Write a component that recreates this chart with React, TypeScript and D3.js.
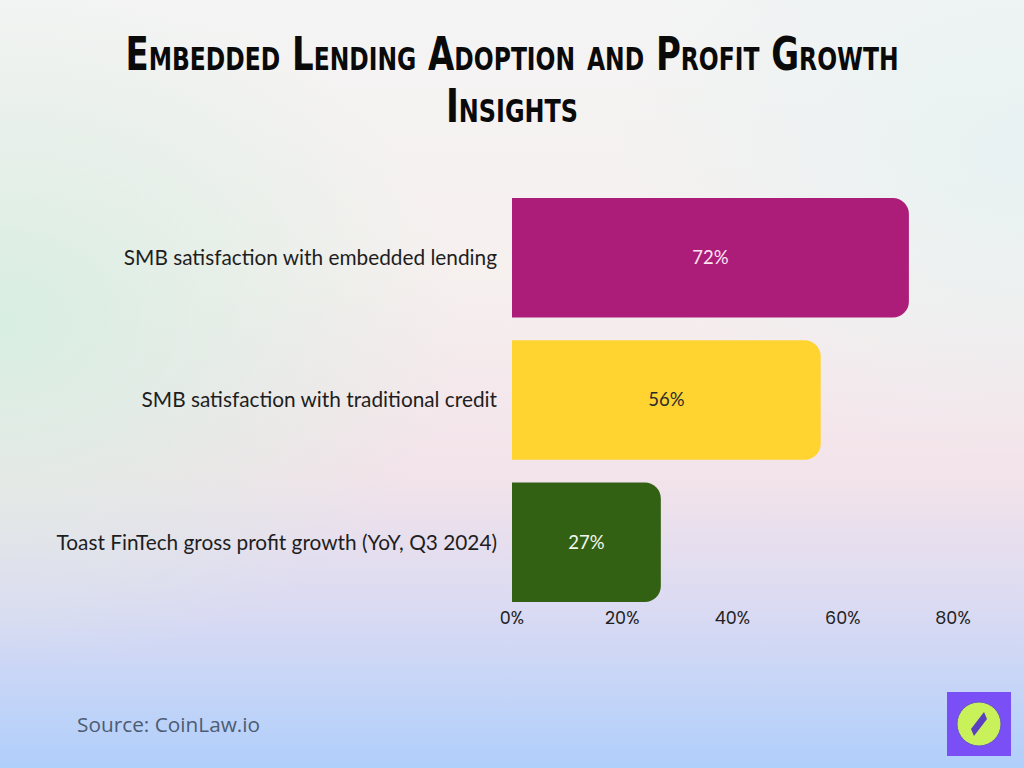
import React from "react";
import * as d3 from "d3";

const categories = [
  "SMB satisfaction with embedded lending",
  "SMB satisfaction with traditional credit",
  "Toast FinTech gross profit growth (YoY, Q3 2024)",
];
const values = [72, 56, 27];
const barColors = ["#ac1d79", "#ffd330", "#336114"];
const valueColors = ["#fbe6f2", "#2b2b2b", "#f3f7ee"];
const ticks = [0, 20, 40, 60, 80];

const W = 1024;
const H = 768;

function barPath(x0: number, x1: number, y: number, h: number, r: number) {
  const rr = Math.min(r, (x1 - x0) / 2, h / 2);
  return `M${x0},${y}H${x1 - rr}A${rr},${rr} 0 0 1 ${x1},${y + rr}V${y + h - rr}A${rr},${rr} 0 0 1 ${x1 - rr},${y + h}H${x0}Z`;
}

export default function App() {
  const x = d3.scaleLinear().domain([0, 80]).range([512, 953]);
  const y = d3
    .scaleBand<string>()
    .domain(categories)
    .range([188, 612])
    .paddingInner(0.16)
    .paddingOuter(0.07);

  return (
    <svg
      width={W}
      height={H}
      style={{ display: "block", position: "absolute", left: 0, top: 0 }}
    >
      <defs>
        <linearGradient id="bg" x1="0" y1="0" x2="0" y2="1">
          <stop offset="0" stopColor="#f4f4f4" />
          <stop offset="0.35" stopColor="#f6f0ef" />
          <stop offset="0.62" stopColor="#f3e3ea" />
          <stop offset="0.8" stopColor="#d9daf3" />
          <stop offset="1" stopColor="#b0cffb" />
        </linearGradient>
        <radialGradient id="mint" cx="0" cy="0.42" r="0.45">
          <stop offset="0" stopColor="#d8eee2" stopOpacity="1" />
          <stop offset="1" stopColor="#d8eee2" stopOpacity="0" />
        </radialGradient>
        <radialGradient id="tr" cx="1" cy="0.2" r="0.4">
          <stop offset="0" stopColor="#e6f2f2" stopOpacity="0.9" />
          <stop offset="1" stopColor="#e6f2f2" stopOpacity="0" />
        </radialGradient>
      </defs>
      <rect width={W} height={H} fill="url(#bg)" />
      <rect width={W} height={H} fill="url(#mint)" />
      <rect width={W} height={H} fill="url(#tr)" />

      {/* title: condensed look via vertical stretch */}
      <g
        fontFamily="'DejaVu Sans Condensed', 'DejaVu Sans', sans-serif"
        fontWeight="bold"
        fontSize={35}
        fill="#0a0a0a"
        textAnchor="middle"
        style={{ fontVariant: "small-caps" }}
        transform="scale(1,1.3)"
      >
        <text x={512} y={70 / 1.3} textLength={773} lengthAdjust="spacingAndGlyphs">
          Embedded Lending Adoption and Profit Growth
        </text>
        <text x={512} y={122 / 1.3} textLength={132} lengthAdjust="spacingAndGlyphs">
          Insights
        </text>
      </g>

      {/* bars */}
      {categories.map((c, i) => {
        const by = y(c)!;
        const bh = y.bandwidth();
        return (
          <g key={c}>
            <path d={barPath(x(0), x(values[i]), by, bh, 16)} fill={barColors[i]} />
            <text
              x={(x(0) + x(values[i])) / 2}
              y={by + bh / 2}
              dy="0.35em"
              textAnchor="middle"
              fontFamily="Lato, sans-serif"
              fontSize={18.5}
              fill={valueColors[i]}
            >
              {values[i]}%
            </text>
            <text
              x={497}
              y={by + bh / 2}
              dy="0.35em"
              textAnchor="end"
              fontFamily="Lato, sans-serif"
              fontSize={20.8}
              fill="#1e1e1e"
            >
              {c}
            </text>
          </g>
        );
      })}

      {/* x axis ticks */}
      {ticks.map((t) => (
        <text
          key={t}
          x={x(t)}
          y={618}
          dy="0.35em"
          textAnchor="middle"
          fontFamily="Poppins, 'Open Sans', sans-serif"
          fontSize={17.5}
          fill="#222"
        >
          {t}%
        </text>
      ))}

      {/* source */}
      <text
        x={77}
        y={732}
        fontFamily="'Open Sans', sans-serif"
        fontSize={20.8}
        fill="#4d5c72"
      >
        Source: CoinLaw.io
      </text>

      {/* logo */}
      <g transform="translate(947,692)">
        <rect width={64} height={64} fill="#7a4ff5" />
        <circle cx={32} cy={32} r={22} fill="#c9f25a" stroke="#6a55c8" strokeWidth={1} />
        <path d="M37,20 L40,27 L27,44 L24,37 Z" fill="#5a3fc0" />
      </g>
    </svg>
  );
}
